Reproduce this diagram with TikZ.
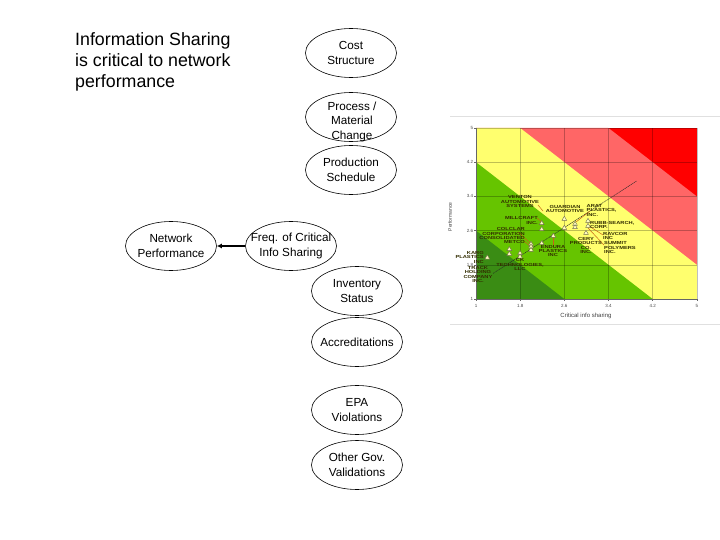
\documentclass[tikz,border=0pt]{standalone}
\usepackage{fontspec}
\setmainfont{Liberation Sans}
\newfontfamily\cfont[FakeStretch=1.3]{Liberation Sans}
\usetikzlibrary{shapes.geometric,arrows.meta}
\definecolor{dkgreen}{RGB}{58,140,20}
\definecolor{ltgreen}{RGB}{102,196,0}
\definecolor{yel}{RGB}{255,255,110}
\definecolor{pinkband}{RGB}{255,102,102}
\definecolor{redband}{RGB}{255,0,0}
\definecolor{lbl}{RGB}{50,45,0}
\definecolor{leader}{RGB}{200,100,20}
\begin{document}
\begin{tikzpicture}[x=1pt,y=-1pt,
  bub/.style={ellipse,draw,line width=0.6pt,minimum width=91pt,minimum height=49pt,inner xsep=-14pt,inner ysep=-8pt,align=center,font=\fontsize{11.7}{14.5}\selectfont},
  bubtext/.style={inner sep=0pt,align=center,font=\fontsize{11.7}{14.5}\selectfont},
  co/.style={font=\cfont\bfseries\fontsize{4.4}{4.3}\selectfont,text=lbl,align=center,inner sep=0pt},
  tri/.style={regular polygon,regular polygon sides=3,minimum size=5.5pt,inner sep=0pt,draw=lbl!70,line width=0.4pt,fill=white!75!yellow},
  lead/.style={draw=leader,line width=0.5pt},
  ticklbl/.style={font=\fontsize{4.5}{4.5}\selectfont,text=black!70,inner sep=0pt},
  grid/.style={draw=black,opacity=0.25,line width=0.4pt}
]
\useasboundingbox (0,0) rectangle (720,540);
\fill[white] (0,0) rectangle (720,540);

% title
\node[anchor=north west,align=left,inner sep=0pt,font=\fontsize{17.8}{21}\selectfont] (title) at (75,32)
  {Information Sharing\\is critical to network\\performance};

% bubbles
\node[bub] (cost) at (351,53) {Cost\\Structure};
\node[bub] (proc) at (351,117) {};
\node[bubtext] (proctxt) at (352,121.5) {Process /\\Material\\Change};
\node[bub] (prod) at (351,170) {Production\\Schedule};
\node[bub] (net) at (171,246) {Network\\Performance};
\node[bub] (freq) at (291,246) {Freq. of Critical\\Info Sharing};
\node[bub] (inv) at (357,291) {Inventory\\Status};
\node[bub] (acc) at (357,342) {Accreditations};
\node[bub] (epa) at (357,410) {EPA\\Violations};
\node[bub] (gov) at (357,465) {Other Gov.\\Validations};
\draw[line width=1.6pt,-{Latex[length=5pt,width=5pt]}] (freq.west) -- (net.east);

% chart frame lines
\draw[black!12,line width=0.5pt] (450,116) -- (720,116);
\draw[black!12,line width=0.5pt] (450,324) -- (720,324);

% chart
\begin{scope}[shift={(420.8,341.75)},x=55.2pt,y=42.75pt]
  \fill[redband] (1,1) rectangle (5,5);
  \fill[pinkband] (1,1) -- (5,1) -- (5,3.4) -- (3.4,5) -- (1,5) -- cycle;
  \fill[yel] (1,1) -- (5,1) -- (5,1.8) -- (1.8,5) -- (1,5) -- cycle;
  \fill[ltgreen] (1,1) -- (4.2,1) -- (1,4.2) -- cycle;
  \fill[dkgreen] (1,1) -- (2.6,1) -- (1,2.6) -- cycle;
  \foreach \v in {1.8,2.6,3.4,4.2,5} {
    \draw[grid] (\v,1) -- (\v,5);
    \draw[grid] (1,\v) -- (5,\v);
  }
  \draw[black!60,line width=0.4pt] (1,5) -- (1,1) -- (5,1);
  \foreach \v [count=\i] in {1,1.8,2.6,3.4,4.2,5} {
    \draw[black!60,line width=0.4pt] (\v,1) -- (\v,0.96);
    \draw[black!60,line width=0.4pt] (1,\v) -- (0.97,\v);
    \node[ticklbl] (xt\i) at (\v,0.84) {\v};
    \node[ticklbl,anchor=east] (yt\i) at (0.95,\v) {\v};
  }
  \draw[black!85,line width=0.45pt,dash pattern=on 1.2pt off 0.6pt] (1.31,1.6) -- (3.91,3.76);
\end{scope}
\node[font=\fontsize{6}{6}\selectfont,text=black!75,inner sep=0pt] (xlab) at (586,316) {Critical info sharing};
\node[font=\fontsize{5}{5}\selectfont,text=black!75,inner sep=0pt,rotate=90] (ylab) at (450,217) {Performance};

% leaders
\draw[lead] (538,205) -- (543,211);
\draw[lead] (537,218) -- (541.7,222);
\draw[lead] (518,232) -- (530,243);
\draw[lead] (524,241) -- (530,246);
\draw[lead] (553,246) -- (553,237);
\draw[lead] (590,211) -- (576,222);
\draw[lead] (603,235) -- (589,226);
\draw[lead] (604,245) -- (588,228);

% points
\foreach \p [count=\i] in {(487.3,257.7),(509.3,249.3),(509.3,254),(520,253.3),(520,256.7),
  (531,244),(531,246.7),(531,250),(541.7,223.3),(541.7,229.3),(541.7,243.3),(553.3,236),
  (564.3,219),(564.3,228),(575,224),(575,227.3),(588,221),(588,226),(586,233)}
  \node[tri] (p\i) at \p {};

% company labels
\node[co] (ventra) at (520,201.5) {VENTON\\AUTOMOTIVE\\SYSTEMS};
\node[co] (guard) at (565,209.2) {GUARDIAN\\AUTOMOTIVE};
\node[co,align=left,anchor=west] (arat) at (586.5,210.5) {ARAT\\PLASTICS,\\INC.};
\node[co,align=right,anchor=east] (mill) at (538,220.5) {MILLCRAFT\\INC.};
\node[co,align=left,anchor=west] (rubb) at (590,225.3) {RUBB-SEARCH,\\CORP.};
\node[co,align=right,anchor=east] (colc) at (525,235.8) {COLCLAR\\CORPORATION\\CONSOLIDATED\\METCO};
\node[co,align=left,anchor=west] (ravc) at (603,236.3) {RAVCOR\\INC};
\node[co] (cery) at (586,245.5) {CERY\\PRODUCTS\\CO.\\INC.};
\node[co,align=left,anchor=west] (summ) at (604,247.5) {SUMMIT\\POLYMERS\\INC.};
\node[co] (endu) at (553,251.2) {ENDURA\\PLASTICS\\INC};
\node[co,align=right,anchor=east] (karg) at (484,257.2) {KARG\\PLASTICS\\INC};
\node[co] (track) at (478,274.5) {TRACK\\HOLDING\\COMPANY\\INC.};
\node[co] (ck) at (520,264.7) {CK\\TECHNOLOGIES,\\LLC};
\end{tikzpicture}
\end{document}
